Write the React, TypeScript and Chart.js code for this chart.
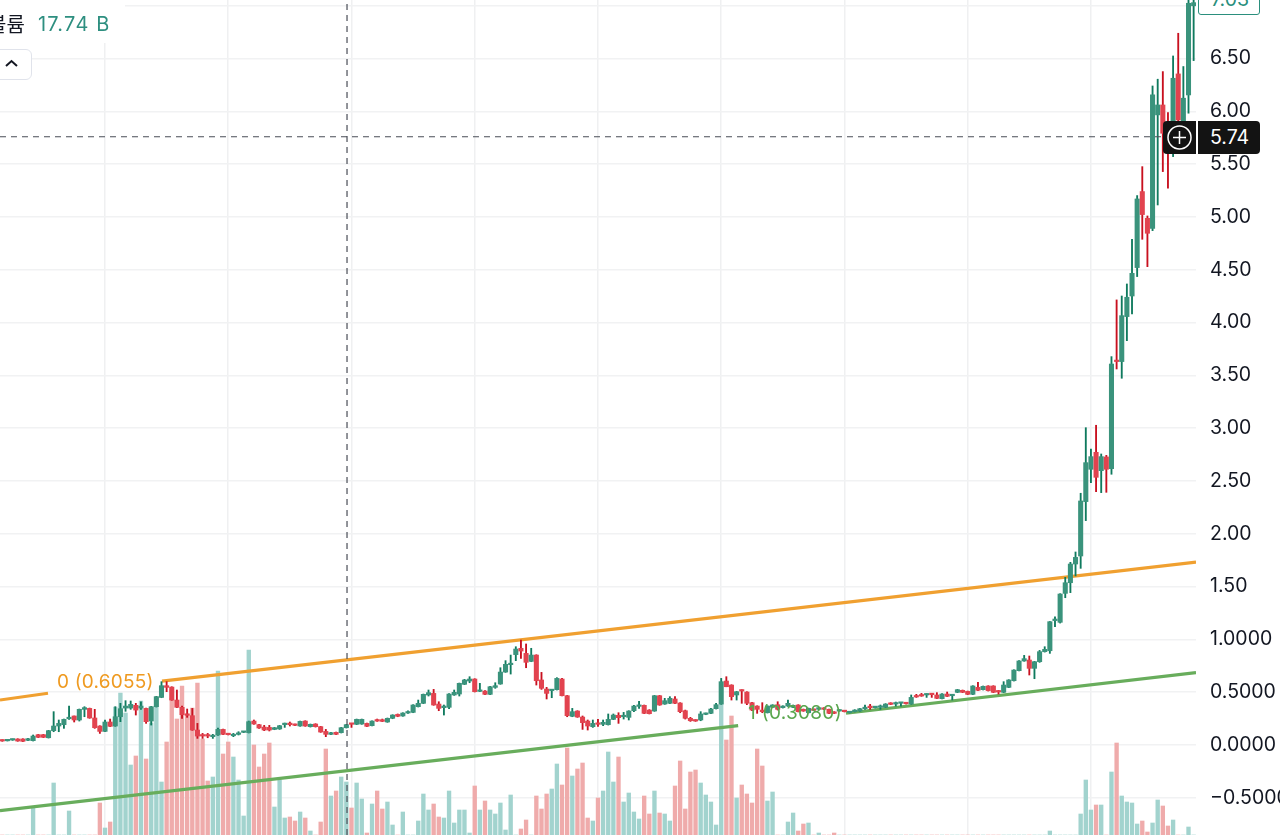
import { useEffect, useRef } from "react";
import { Chart, registerables } from "chart.js";

Chart.register(...registerables);

// 일봉 값
const opens = [
  .047, .040, .047, .057, .057, .044, .041, .098, .098, .069,
  .136, .180, .193, .249, .275, .237, .338, .347, .256, .180,
  .129, .218, .180, .268, .350, .350, .376, .350, .347, .227,
  .363, .451, .562, .549, .426, .357, .294, .278, .142, .098,
  .095, .079, .095, .148, .107, .088, .101, .120, .117, .227,
  .193, .170, .167, .148, .152, .193, .202, .196, .180, .227,
  .174, .199, .174, .129, .101, .120, .117, .164, .205, .196,
  .199, .205, .183, .237, .240, .218, .253, .290, .275, .303,
  .309, .363, .395, .474, .489, .388, .354, .357, .474, .483,
  .575, .606, .625, .508, .511, .480, .546, .578, .691, .761,
  .856, .916, .868, .792, .852, .616, .530, .515, .524, .625,
  .467, .272, .322, .265, .227, .174, .205, .196, .193, .243,
  .281, .268, .262, .325, .366, .376, .331, .322, .467, .388,
  .395, .436, .398, .325, .253, .237, .237, .290, .300, .344,
  .388, .606, .568, .474, .521, .502, .401, .369, .331, .306,
  .357, .382, .354, .369, .357, .379, .338, .306, .338, .338,
  .350, .338, .313, .322, .322, .306, .316, .322, .344, .363,
  .354, .357, .357, .398, .388, .395, .401, .388, .464, .474,
  .474, .486, .474, .439, .483, .467, .499, .518, .508, .480,
  .546, .524, .559, .559, .515, .499, .546, .609, .704, .796,
  .805, .726, .789, .884, .893, 1.178, 1.162, 1.436, 1.537, 1.714,
  1.790, 2.305, 2.611, 2.772, 2.598, 2.728, 2.617, 3.640, 3.631, 4.057,
  4.252, 4.521, 5.241, 4.988, 4.893, 5.967, 6.061, 5.809, 5.904, 6.355,
  5.888, 6.156, 7.000,
];
const highs = [
  .050, .050, .057, .060, .060, .063, .095, .101, .101, .139,
  .316, .237, .246, .369, .275, .341, .363, .350, .338, .183,
  .237, .246, .363, .395, .420, .417, .395, .410, .350, .366,
  .461, .600, .600, .552, .521, .369, .341, .347, .205, .110,
  .110, .101, .161, .151, .110, .110, .126, .129, .227, .237,
  .196, .186, .186, .167, .186, .208, .218, .199, .227, .230,
  .199, .202, .177, .148, .120, .123, .167, .196, .205, .246,
  .246, .208, .230, .246, .246, .256, .287, .294, .306, .325,
  .382, .426, .483, .521, .527, .410, .379, .486, .521, .587,
  .622, .647, .628, .584, .515, .556, .590, .732, .799, .852,
  .931, .994, .957, .916, .855, .688, .546, .527, .638, .631,
  .470, .347, .325, .275, .237, .237, .243, .237, .294, .294,
  .306, .309, .325, .376, .414, .379, .335, .470, .470, .442,
  .458, .458, .401, .331, .262, .240, .316, .303, .347, .395,
  .631, .647, .571, .508, .524, .505, .404, .372, .401, .372,
  .382, .410, .372, .426, .379, .382, .341, .350, .341, .357,
  .354, .341, .316, .335, .325, .319, .335, .347, .379, .385,
  .366, .379, .392, .401, .407, .404, .404, .474, .480, .489,
  .486, .489, .496, .486, .502, .480, .527, .521, .511, .562,
  .594, .559, .562, .562, .518, .600, .619, .713, .799, .849,
  .843, .792, .896, .931, 1.170, 1.215, 1.433, 1.588, 1.730, 1.828,
  2.384, 3.005, 2.803, 3.028, 2.756, 2.743, 3.678, 4.215, 4.252, 4.366,
  4.789, 5.203, 5.477, 5.010, 6.241, 6.305, 6.377, 5.989, 6.525, 6.740,
  6.425, 7.060, 7.060,
];
const lows = [
  .035, .038, .044, .035, .032, .041, .038, .070, .070, .066,
  .126, .126, .158, .243, .218, .227, .268, .253, .158, .110,
  .126, .174, .177, .221, .319, .338, .284, .338, .205, .189,
  .360, .448, .505, .423, .354, .253, .262, .139, .063, .063,
  .069, .063, .092, .098, .095, .079, .095, .117, .114, .196,
  .158, .136, .133, .145, .148, .167, .180, .183, .177, .177,
  .170, .170, .120, .079, .098, .098, .114, .161, .167, .193,
  .196, .174, .180, .224, .221, .215, .249, .268, .272, .300,
  .306, .360, .392, .464, .376, .325, .284, .344, .470, .464,
  .572, .590, .502, .505, .477, .477, .537, .575, .688, .672,
  .799, .821, .732, .789, .568, .527, .436, .448, .521, .464,
  .268, .268, .262, .148, .142, .167, .177, .183, .189, .240,
  .205, .246, .237, .316, .347, .297, .294, .319, .376, .385,
  .392, .392, .306, .246, .224, .224, .230, .287, .297, .341,
  .385, .552, .426, .426, .395, .382, .325, .300, .306, .303,
  .354, .331, .350, .366, .354, .313, .319, .303, .325, .335,
  .335, .297, .297, .319, .313, .303, .313, .319, .338, .338,
  .350, .338, .354, .382, .369, .369, .388, .385, .451, .461,
  .451, .451, .439, .436, .458, .426, .496, .496, .477, .477,
  .515, .521, .511, .496, .483, .496, .543, .606, .701, .793,
  .663, .628, .783, .880, .868, 1.121, 1.155, 1.395, 1.443, 1.601,
  1.673, 2.125, 2.485, 2.399, 2.390, 2.393, 2.564, 3.561, 3.473, 3.829,
  4.082, 4.436, 4.789, 4.530, 4.871, 5.114, 5.430, 5.272, 5.572, 5.856,
  5.800, 5.983, 6.481,
];
const closes = [
  .038, .047, .054, .038, .035, .060, .085, .073, .073, .136,
  .180, .205, .243, .262, .237, .338, .354, .256, .164, .129,
  .218, .177, .268, .344, .369, .385, .331, .369, .221, .363,
  .458, .562, .546, .426, .357, .287, .281, .142, .085, .085,
  .085, .092, .148, .101, .098, .101, .114, .126, .221, .199,
  .161, .142, .142, .164, .183, .202, .193, .186, .224, .180,
  .196, .174, .123, .101, .117, .101, .164, .193, .196, .243,
  .243, .177, .227, .227, .224, .253, .284, .272, .303, .313,
  .379, .395, .480, .496, .379, .347, .369, .483, .499, .584,
  .616, .625, .505, .515, .480, .552, .562, .691, .764, .773,
  .909, .890, .783, .852, .609, .537, .489, .524, .631, .467,
  .278, .316, .265, .212, .180, .205, .196, .215, .243, .284,
  .259, .281, .322, .369, .379, .300, .297, .467, .379, .420,
  .442, .395, .316, .253, .230, .227, .294, .300, .341, .382,
  .600, .552, .458, .505, .511, .395, .331, .338, .316, .369,
  .379, .338, .369, .395, .376, .316, .322, .347, .328, .354,
  .338, .300, .300, .331, .316, .316, .331, .344, .357, .354,
  .363, .366, .388, .385, .395, .401, .391, .451, .455, .464,
  .483, .477, .442, .483, .461, .477, .524, .499, .480, .559,
  .518, .556, .515, .499, .502, .568, .616, .710, .796, .818,
  .726, .789, .884, .906, 1.168, 1.193, 1.430, 1.537, 1.714, 1.777,
  2.311, 2.674, 2.731, 2.535, 2.731, 2.611, 3.608, 3.631, 4.066, 4.240,
  4.467, 5.171, 5.023, 4.846, 6.156, 6.061, 5.793, 5.796, 6.314, 5.919,
  6.125, 7.024, 7.030,
];
const volumes = [
  0, 0, 0, 0, 0, 0, 27, 0, 0, 0,
  52, 0, 0, 24, 0, 0, 0, 0, 0, 32,
  7, 13, 128, 142, 122, 70, 79, 134, 76, 112,
  138, 53, 93, 137, 116, 149, 121, 127, 152, 96,
  54, 58, 164, 81, 93, 78, 55, 19, 185, 90,
  68, 81, 92, 28, 55, 17, 18, 14, 23, 17,
  4, 0, 13, 86, 39, 44, 58, 53, 27, 52,
  36, 2, 31, 44, 26, 33, 10, 0, 23, 0,
  0, 14, 41, 25, 31, 18, 17, 44, 12, 25,
  25, 2, 49, 25, 34, 25, 21, 32, 5, 40,
  0, 6, 15, 0, 39, 26, 41, 46, 71, 50,
  87, 59, 66, 72, 17, 14, 37, 44, 83, 53,
  78, 33, 42, 23, 16, 39, 21, 44, 22, 21,
  14, 49, 74, 26, 63, 65, 52, 40, 33, 10,
  131, 95, 119, 37, 50, 41, 32, 86, 69, 34,
  43, 0, 0, 13, 22, 4, 11, 12, 0, 2,
  0, 0, 2, 0, 0, 0, 0, 0, 0, 0,
  0, 0, 0, 0, 0, 0, 0, 0, 0, 0,
  0, 0, 0, 0, 0, 0, 0, 0, 0, 0,
  0, 0, 0, 0, 0, 0, 0, 0, 0, 0,
  0, 0, 0, 0, 4, 0, 0, 0, 0, 0,
  21, 55, 25, 30, 30, 0, 63, 92, 39, 33,
  32, 11, 14, 3, 12, 35, 29, 9, 15, 0,
  0, 8, 0,
];

// 추세선: [봉 번호, 가격]
const orangeLeft = [[-0.45, .426], [8.9, .49]];
const orangeRight = [[31.1, .6055], [232.46, 1.733]];
const greenLeft = [[-0.45, -.622], [143.3, .183]];
const greenRight = [[164.3, .301], [232.46, .685]];
const crossV = [[67.13, -.852], [67.13, 7.055]];
const crossH = [[-0.45, 5.76], [226.4, 5.76]];

const gridBars = [20, 44, 68, 92, 116, 140, 164, 188, 212];

const UP = "#3a937c";
const DOWN = "#e2434f";
const UP_WICK = "#0f7a5e";
const DOWN_WICK = "#c8101f";
const FONT = "Inter, sans-serif";

const line = (pts: number[][], color: string, width: number, order: number, dash: number[] = []) => ({
  type: "line" as const,
  data: pts.map(([x, y]) => ({ x, y })),
  borderColor: color,
  borderWidth: width,
  borderDash: dash,
  pointRadius: 0,
  order,
});

export default function App() {
  const canvasRef = useRef<HTMLCanvasElement>(null!);

  useEffect(() => {
    document.body.style.margin = "0";
    document.body.style.overflow = "hidden";

    const isUp = closes.map((c, i) => c >= opens[i]);
    const chart = new Chart(canvasRef.current, {
      type: "bar",
      data: {
        datasets: [
          {
            data: volumes.map((v, i) => ({ x: i, y: v })),
            yAxisID: "yVol",
            backgroundColor: isUp.map((u) => (u ? "#a2d3ce" : "#efabab")),
            barThickness: 3.7,
            grouped: false,
            order: 6,
          },
          line(orangeLeft, "#f0a030", 3.2, 5),
          line(orangeRight, "#f0a030", 3.2, 5),
          line(greenLeft, "#68ad5c", 3.2, 5),
          line(greenRight, "#68ad5c", 3.2, 5),
          {
            data: highs.map((h, i) => ({ x: i, y: [lows[i], h] })),
            backgroundColor: isUp.map((u) => (u ? UP_WICK : DOWN_WICK)),
            barThickness: 1.2,
            grouped: false,
            order: 4,
          },
          {
            data: opens.map((o, i) => ({ x: i, y: [o, closes[i]] })),
            backgroundColor: isUp.map((u) => (u ? UP : DOWN)),
            barThickness: 4.4,
            minBarLength: 1.5,
            grouped: false,
            order: 3,
          },
          line(crossV, "#4a4d57", 1.2, 1, [6, 5]),
          line(crossH, "#4a4d57", 1.2, 1, [6, 5]),
        ] as any,
      },
      options: {
        responsive: false,
        animation: false,
        events: [],
        layout: { padding: 0 },
        plugins: { legend: { display: false }, tooltip: { enabled: false } },
        scales: {
          x: {
            type: "linear",
            min: -0.448,
            max: 232.46,
            offset: false,
            border: { display: false },
            grid: { color: "#eff0f1", lineWidth: 1.5, drawTicks: false, offset: false },
            ticks: { display: false },
            afterBuildTicks: (scale) => {
              scale.ticks = gridBars.map((value) => ({ value }));
            },
          },
          y: {
            position: "right",
            min: -0.852,
            max: 7.055,
            border: { display: false },
            grid: { color: "#f1f2f3", lineWidth: 1.5, drawTicks: false },
            ticks: {
              stepSize: 0.5,
              includeBounds: false,
              padding: 14,
              color: "#131722",
              font: { family: FONT, size: 19.5 },
              callback: (v) => {
                const n = Number(v);
                const s = Math.abs(n).toFixed(n >= 1.5 ? 2 : 4);
                return n < 0 ? "\u2212" + s : s;
              },
            },
            afterFit: (scale) => {
              scale.width = 84;
              scale.paddingTop = 0;
              scale.paddingBottom = 0;
            },
          },
          yVol: { display: false, min: 0, max: 835 },
        },
      },
    });
    return () => chart.destroy();
  }, []);

  const text = { position: "absolute", fontFamily: FONT, fontSize: 19.5, lineHeight: "24px", whiteSpace: "nowrap" } as const;

  return (
    <div style={{ position: "relative", width: 1280, height: 835, overflow: "hidden", background: "#fff" }}>
      <canvas ref={canvasRef} width={1280} height={835} style={{ display: "block" }} />

      <div style={{ position: "absolute", left: 0, top: 0, width: 125, height: 43, background: "#fff" }} />
      <div style={{ ...text, left: -12, top: 12, fontSize: 20, color: "#131722", fontFamily: "'Noto Sans CJK KR'" }}>볼륨</div>
      <div style={{ ...text, left: 38, top: 12, fontSize: 20, letterSpacing: 1.2, color: "#2e8f80" }}>17.74 B</div>
      <div
        style={{
          position: "absolute", left: -8, top: 49, width: 40, height: 31, boxSizing: "border-box",
          border: "1px solid #e0e3eb", borderRadius: 6, background: "#fff",
        }}
      >
        <svg width="38" height="29" style={{ display: "block" }}>
          <polyline points="13,16 18.5,11 24,16" fill="none" stroke="#131722" strokeWidth="2" />
        </svg>
      </div>

      <div style={{ ...text, left: 57, top: 670, fontSize: 19, letterSpacing: 0.2, color: "#ef9a20" }}>0 (0.6055)</div>
      <div style={{ ...text, left: 748, top: 701, fontSize: 19, letterSpacing: 0.3, color: "#5aa64e" }}>1 (0.3080)</div>

      <div
        style={{
          ...text, left: 1198, top: -17, width: 62, height: 32, boxSizing: "border-box", paddingLeft: 12,
          lineHeight: "31px", border: "1.5px solid #2b8f7d", borderRadius: 3, background: "#fff", color: "#2b8f7d",
        }}
      >
        7.03
      </div>

      <div style={{ position: "absolute", left: 1163, top: 121, width: 33, height: 33, background: "#131313", borderRadius: "4px 0 0 4px" }}>
        <svg width="33" height="33" style={{ display: "block" }}>
          <circle cx="16.5" cy="16.5" r="11.5" fill="none" stroke="#fff" strokeWidth="1.5" />
          <path d="M16.5 10v13M10 16.5h13" stroke="#fff" strokeWidth="1.5" />
        </svg>
      </div>
      <div
        style={{
          ...text, left: 1198, top: 121, width: 62, height: 33, boxSizing: "border-box", paddingLeft: 12,
          lineHeight: "33px", background: "#131313", borderRadius: "0 4px 4px 0", color: "#fff",
        }}
      >
        5.74
      </div>
    </div>
  );
}
